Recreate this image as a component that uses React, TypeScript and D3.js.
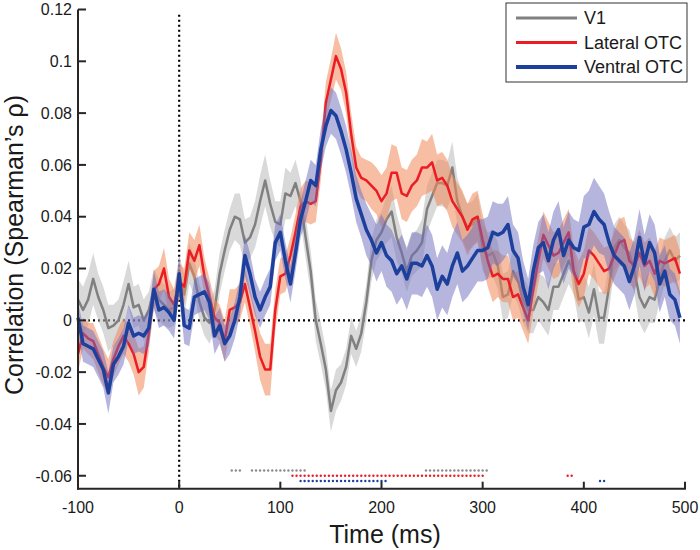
import React from "react";
import * as d3 from "d3";

// time grid (ms), one sample every 5 ms
const times = d3.range(-100, 500, 5);

const v1Mean = [
  0.008, 0.004, 0.008, 0.016, 0.009, 0.004, -0.003, -0.002, 0.0, 0.006,
  0.014, 0.005, 0.006, 0.0, 0.004, 0.012, 0.008, 0.006, 0.004, 0.005,
  0.017, 0.01, 0.022, 0.017, 0.007, 0.001, -0.001, 0.004, 0.018, 0.027,
  0.035, 0.04, 0.039, 0.03, 0.032, 0.037, 0.046, 0.054, 0.045, 0.038,
  0.037, 0.049, 0.048, 0.053, 0.046, 0.032, 0.019, 0.0, -0.009, -0.019,
  -0.035, -0.027, -0.024, -0.018, -0.006, -0.011, -0.005, 0.007, 0.023, 0.031,
  0.034, 0.039, 0.042, 0.032, 0.026, 0.019, 0.025, 0.027, 0.03, 0.043,
  0.048, 0.053, 0.053, 0.052, 0.059, 0.046, 0.04, 0.036, 0.037, 0.04,
  0.028, 0.025, 0.026, 0.021, 0.009, 0.01, 0.019, 0.015, 0.008, 0.004,
  0.004, 0.009, 0.007, 0.004, 0.013, 0.013, 0.018, 0.023, 0.019, 0.008,
  0.009, 0.003, 0.012, 0.001, 0.001, 0.013, 0.028, 0.031, 0.028, 0.026,
  0.019, 0.009, 0.005, 0.009, 0.008, 0.016, 0.023, 0.027, 0.023, 0.025,
];
const v1Err = [
  0.008, 0.009, 0.01, 0.01, 0.009, 0.009, 0.009, 0.008, 0.008, 0.009,
  0.009, 0.008, 0.008, 0.008, 0.007, 0.008, 0.008, 0.008, 0.007, 0.007,
  0.008, 0.008, 0.008, 0.007, 0.007, 0.007, 0.008, 0.008, 0.008, 0.008,
  0.008, 0.009, 0.01, 0.009, 0.008, 0.009, 0.01, 0.01, 0.009, 0.008,
  0.009, 0.01, 0.009, 0.009, 0.008, 0.008, 0.008, 0.008, 0.008, 0.008,
  0.008, 0.008, 0.007, 0.007, 0.007, 0.007, 0.007, 0.007, 0.008, 0.008,
  0.008, 0.009, 0.01, 0.009, 0.008, 0.008, 0.008, 0.008, 0.009, 0.009,
  0.009, 0.009, 0.009, 0.009, 0.01, 0.009, 0.009, 0.009, 0.009, 0.009,
  0.009, 0.009, 0.009, 0.009, 0.009, 0.009, 0.009, 0.009, 0.009, 0.009,
  0.009, 0.009, 0.01, 0.01, 0.009, 0.009, 0.009, 0.009, 0.009, 0.009,
  0.009, 0.01, 0.01, 0.01, 0.01, 0.009, 0.009, 0.009, 0.009, 0.009,
  0.009, 0.01, 0.01, 0.01, 0.009, 0.009, 0.009, 0.009, 0.009, 0.009,
];

const lotcMean = [
  -0.013, -0.005, -0.007, -0.008, -0.013, -0.018, -0.022, -0.015, -0.01, -0.006,
  -0.009, -0.013, -0.02, -0.018, -0.005, 0.012, 0.014, 0.02, 0.009, 0.006,
  0.015, 0.013, 0.027, 0.023, 0.029, 0.017, 0.009, 0.001, -0.001, -0.008,
  0.004, 0.005, 0.007, 0.014, 0.005, -0.004, -0.014, -0.019, -0.019, 0.004,
  0.017, 0.018, 0.025, 0.034, 0.044, 0.046, 0.045, 0.046, 0.062, 0.084,
  0.093, 0.102, 0.097, 0.088, 0.072, 0.059, 0.055, 0.054, 0.052, 0.05,
  0.046, 0.049, 0.057, 0.057, 0.049, 0.048, 0.052, 0.054, 0.059, 0.059,
  0.061, 0.054, 0.055, 0.052, 0.046, 0.043, 0.04, 0.035, 0.039, 0.04,
  0.031, 0.023, 0.017, 0.018, 0.016, 0.016, 0.009, 0.01, 0.005, 0.0,
  0.012, 0.023, 0.033, 0.029, 0.025, 0.026, 0.03, 0.034, 0.019, 0.014,
  0.018, 0.027, 0.025, 0.022, 0.019, 0.02, 0.025, 0.03, 0.031, 0.023,
  0.021, 0.026, 0.021, 0.023, 0.018, 0.023, 0.022, 0.023, 0.024, 0.018,
];
const lotcErr = [
  0.007, 0.006, 0.006, 0.007, 0.007, 0.007, 0.007, 0.007, 0.007, 0.007,
  0.007, 0.008, 0.009, 0.008, 0.007, 0.007, 0.007, 0.008, 0.007, 0.006,
  0.007, 0.007, 0.007, 0.008, 0.008, 0.007, 0.007, 0.007, 0.007, 0.008,
  0.008, 0.007, 0.007, 0.007, 0.007, 0.008, 0.009, 0.01, 0.01, 0.008,
  0.007, 0.007, 0.007, 0.007, 0.007, 0.008, 0.008, 0.008, 0.008, 0.008,
  0.008, 0.009, 0.008, 0.008, 0.008, 0.008, 0.008, 0.008, 0.009, 0.009,
  0.01, 0.01, 0.011, 0.01, 0.01, 0.01, 0.01, 0.01, 0.011, 0.01,
  0.011, 0.01, 0.01, 0.01, 0.01, 0.01, 0.01, 0.01, 0.01, 0.01,
  0.01, 0.01, 0.01, 0.009, 0.009, 0.009, 0.009, 0.009, 0.009, 0.009,
  0.009, 0.009, 0.009, 0.009, 0.009, 0.009, 0.009, 0.009, 0.009, 0.009,
  0.009, 0.009, 0.009, 0.009, 0.009, 0.009, 0.009, 0.009, 0.009, 0.009,
  0.009, 0.009, 0.009, 0.009, 0.009, 0.009, 0.009, 0.009, 0.009, 0.009,
];

const votcMean = [
  0.001, -0.009, -0.01, -0.011, -0.015, -0.019, -0.028, -0.017, -0.014, -0.01,
  -0.001, -0.006, -0.005, -0.006, -0.003, 0.012, 0.004, 0.005, 0.003, 0.0,
  0.018, -0.002, -0.003, 0.009, 0.01, 0.011, 0.007, -0.006, -0.002, -0.009,
  -0.006, 0.0, 0.009, 0.025, 0.018, 0.009, 0.004, 0.009, 0.013, 0.03,
  0.034, 0.023, 0.014, 0.026, 0.039, 0.046, 0.054, 0.052, 0.066, 0.075,
  0.081, 0.079, 0.073, 0.066, 0.057, 0.047, 0.041, 0.035, 0.031, 0.026,
  0.03, 0.025, 0.023, 0.018, 0.021, 0.016, 0.022, 0.022, 0.021, 0.025,
  0.021, 0.012, 0.017, 0.014, 0.021, 0.026, 0.019, 0.021, 0.024, 0.027,
  0.027, 0.028, 0.034, 0.033, 0.034, 0.037, 0.027, 0.024, 0.013, 0.006,
  0.019, 0.028, 0.03, 0.023, 0.031, 0.035, 0.025, 0.031, 0.028, 0.027,
  0.036, 0.037, 0.042, 0.039, 0.037, 0.03, 0.025, 0.023, 0.021, 0.015,
  0.021, 0.032, 0.022, 0.03, 0.026, 0.014, 0.019, 0.01, 0.008, 0.001,
];
const votcErr = [
  0.006, 0.007, 0.007, 0.007, 0.007, 0.007, 0.008, 0.007, 0.007, 0.007,
  0.007, 0.007, 0.007, 0.007, 0.007, 0.007, 0.007, 0.007, 0.007, 0.007,
  0.007, 0.007, 0.007, 0.007, 0.007, 0.007, 0.007, 0.007, 0.007, 0.007,
  0.007, 0.007, 0.007, 0.008, 0.008, 0.007, 0.007, 0.007, 0.007, 0.007,
  0.007, 0.007, 0.007, 0.007, 0.007, 0.008, 0.008, 0.008, 0.008, 0.008,
  0.009, 0.009, 0.009, 0.009, 0.009, 0.009, 0.009, 0.01, 0.01, 0.011,
  0.011, 0.012, 0.012, 0.012, 0.012, 0.012, 0.012, 0.012, 0.012, 0.012,
  0.012, 0.012, 0.012, 0.012, 0.012, 0.012, 0.012, 0.012, 0.012, 0.012,
  0.012, 0.012, 0.012, 0.012, 0.011, 0.011, 0.01, 0.01, 0.01, 0.01,
  0.01, 0.01, 0.011, 0.011, 0.011, 0.011, 0.011, 0.011, 0.011, 0.011,
  0.012, 0.013, 0.013, 0.013, 0.012, 0.012, 0.011, 0.011, 0.011, 0.011,
  0.011, 0.011, 0.011, 0.011, 0.011, 0.011, 0.01, 0.01, 0.01, 0.01,
];

// significant time windows [start, end] in ms, sampled every 4 ms
const v1Sig = [[52, 60], [72, 124], [244, 304]];
const lotcSig = [[112, 300], [384, 388]];
const votcSig = [[120, 204], [416, 420]];

const xTicks = [-100, 0, 100, 200, 300, 400, 500];
const yTicks = [-0.06, -0.04, -0.02, 0, 0.02, 0.04, 0.06, 0.08, 0.1, 0.12];

const series = [
  { name: "V1", mean: v1Mean, err: v1Err, sig: v1Sig, sigY: -0.058,
    line: "#808080", band: "#b9b9b9", bandOp: 0.55, lw: 2.5, dot: "#8c8c8c" },
  { name: "Lateral OTC", mean: lotcMean, err: lotcErr, sig: lotcSig, sigY: -0.06,
    line: "#ec1c24", band: "#f0885a", bandOp: 0.55, lw: 2.5, dot: "#ec1c24" },
  { name: "Ventral OTC", mean: votcMean, err: votcErr, sig: votcSig, sigY: -0.062,
    line: "#1c409b", band: "#6b6bbd", bandOp: 0.5, lw: 3.5, dot: "#1c409b" },
];

const font = "'Liberation Sans', Arial, Helvetica, sans-serif";

export default function App() {
  const x = d3.scaleLinear().domain([-100, 500]).range([78, 685]);
  const y = d3.scaleLinear().domain([-0.065, 0.12]).range([488.7, 9.5]);

  const area = (s: any) =>
    d3.area<number>()
      .x((_, i) => x(times[i]))
      .y0((d, i) => y(d - s.err[i]))
      .y1((d, i) => y(d + s.err[i]))(s.mean);
  const line = (s: any) =>
    d3.line<number>().x((_, i) => x(times[i])).y((d) => y(d))(s.mean);

  const axisColor = "#262626";

  return (
    <svg width={700} height={550} style={{ position: "absolute", left: 0, top: 0, background: "#fff" }}
      fontFamily={font}>
      {/* reference lines at t = 0 and r = 0 */}
      <line x1={x(0)} x2={x(0)} y1={y(0.118)} y2={y(-0.065)} stroke="#000" strokeWidth={2.2}
        strokeDasharray="2 3" />
      <line x1={x(-100)} x2={x(500)} y1={y(0)} y2={y(0)} stroke="#000" strokeWidth={2.2}
        strokeDasharray="2 3" />

      {series.map((s) => (
        <g key={s.name}>
          <path d={area(s) || ""} fill={s.band} fillOpacity={s.bandOp} stroke="none" />
          <path d={line(s) || ""} fill="none" stroke={s.line} strokeWidth={s.lw}
            strokeLinejoin="round" />
        </g>
      ))}

      {/* significance markers */}
      {series.map((s) => (
        <g key={s.name + "-sig"}>
          {s.sig.flatMap(([a, b]) => d3.range(a, b + 1, 4)).map((t) => (
            <circle key={t} cx={x(t)} cy={y(s.sigY)} r={1.2} fill={s.dot} />
          ))}
        </g>
      ))}

      {/* axes */}
      <line x1={78} x2={78} y1={y(0.12)} y2={y(-0.065) + 1} stroke={axisColor} strokeWidth={2} />
      <line x1={77} x2={x(500) + 1} y1={y(-0.065)} y2={y(-0.065)} stroke={axisColor} strokeWidth={2} />
      {yTicks.map((t) => (
        <g key={"y" + t}>
          <line x1={78} x2={86} y1={y(t)} y2={y(t)} stroke={axisColor} strokeWidth={2} />
          <text x={72} y={y(t)} dy="0.36em" textAnchor="end" fontSize={16} fill="#1a1a1a">
            {String(+t.toFixed(2))}
          </text>
        </g>
      ))}
      {xTicks.map((t) => (
        <g key={"x" + t}>
          <line x1={x(t)} x2={x(t)} y1={y(-0.065)} y2={y(-0.065) - 7} stroke={axisColor} strokeWidth={2} />
          <text x={x(t)} y={513} textAnchor="middle" fontSize={16} fill="#1a1a1a">{String(t)}</text>
        </g>
      ))}

      <text x={385} y={543} textAnchor="middle" fontSize={25} fill="#1a1a1a">Time (ms)</text>
      <text transform="translate(23,245) rotate(-90)" textAnchor="middle" fontSize={25} fill="#1a1a1a">
        Correlation (Spearman’s ρ)
      </text>

      {/* legend */}
      <rect x={506} y={3} width={181} height={79} fill="#fff" stroke="#333" strokeWidth={1} />
      {series.map((s, i) => (
        <g key={s.name + "-leg"}>
          <line x1={516} x2={577} y1={18 + i * 24.5} y2={18 + i * 24.5} stroke={s.line}
            strokeWidth={s.lw + 0.5} />
          <text x={584} y={18 + i * 24.5} dy="0.36em" fontSize={18} fill="#1a1a1a">{s.name}</text>
        </g>
      ))}
    </svg>
  );
}
